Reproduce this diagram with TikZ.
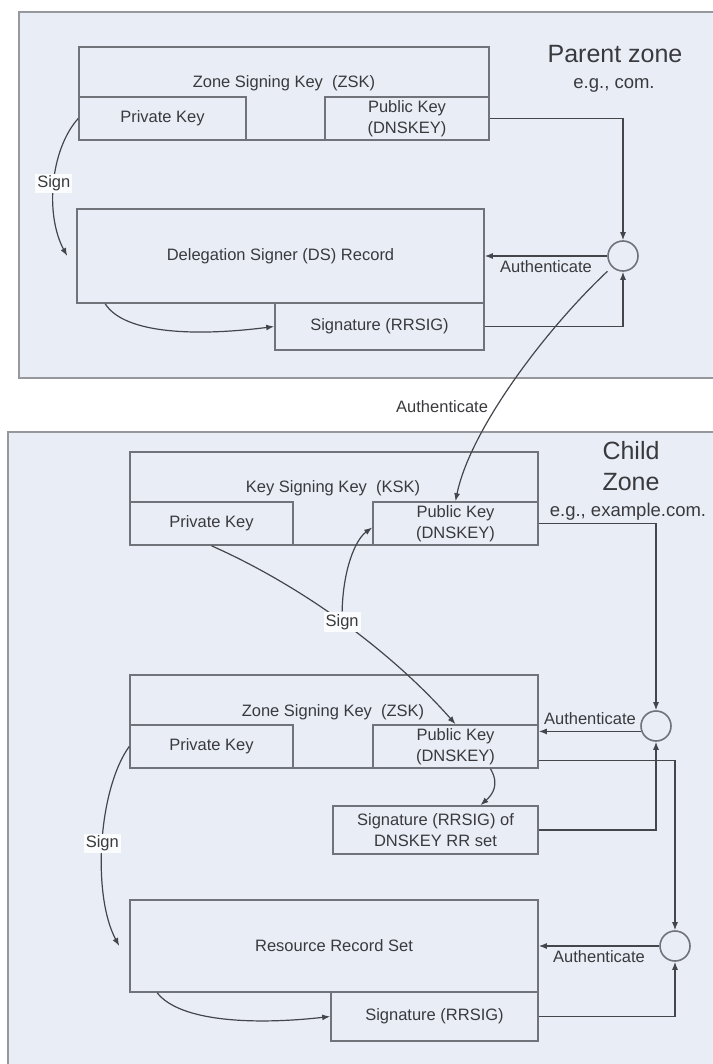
\documentclass[tikz,border=0pt]{standalone}
\usepackage{fontspec}
\setmainfont{Liberation Sans}
\usepackage{tikz}
\usepackage{xcolor}
\usetikzlibrary{arrows.meta}

\definecolor{zonefill}{RGB}{233,238,246}
\definecolor{zoneline}{RGB}{150,152,158}
\definecolor{boxline}{RGB}{112,115,122}
\definecolor{wireline}{RGB}{68,70,76}
\definecolor{labeltext}{RGB}{58,58,62}

\begin{document}
\begin{tikzpicture}[x=1pt, y=-1pt, >={Latex[length=8pt,width=6pt]},
  zone/.style={draw=zoneline, fill=zonefill, line width=2.5pt},
  boxtxt/.style={text=labeltext, font=\fontsize{16.5}{21}\selectfont, align=center, inner sep=1pt},
  keybox/.style={boxtxt, draw=boxline, line width=1.6pt},
  zonetitle/.style={text=labeltext, font=\fontsize{25}{31}\selectfont, align=center},
  zonesub/.style={text=labeltext, font=\fontsize{18.5}{22}\selectfont},
  authcirc/.style={circle, draw=boxline, line width=1.6pt, minimum size=30pt, inner sep=0pt},
  wire/.style={draw=wireline, line width=1.2pt},
  signlbl/.style={boxtxt, fill=white!80!zonefill, inner sep=2pt}]
\useasboundingbox (0,0) rectangle (712,1064);
\fill[white] (0,0) rectangle (712,1064);

% Parent zone
\draw[zone] (19,12) rectangle (740,378);
\node[zonetitle] (parTitle) at (615,54) {Parent zone};
\node[zonesub] (parSub) at (614,85) {e.g., com.};

\node[keybox, minimum width=410pt, minimum height=93pt] (zskP) at (284,93.5) {};
\node[boxtxt] (zskPtxt) at (284,83) {Zone Signing Key\ \ (ZSK)};
\node[keybox, minimum width=167pt, minimum height=43pt] (privP) at (162.5,118.5) {Private Key};
\node[keybox, minimum width=164pt, minimum height=43pt] (pubP) at (407,118.5) {Public Key\\(DNSKEY)};
\node[keybox, minimum width=407pt, minimum height=94pt] (dsP) at (280.5,256) {Delegation Signer (DS) Record};
\node[keybox, minimum width=209pt, minimum height=47pt] (sigP) at (379.5,326.5) {Signature (RRSIG)};
\node[authcirc] (authP) at (623,256) {};

\draw[wire, ->] (pubP.east) -| (authP.north);
\draw[wire, ->] (authP.west) -- node[boxtxt, below=3pt] {Authenticate} (dsP.east);
\draw[wire, ->] (sigP.east) -| (authP.south);
\draw[wire, ->] (privP.west) .. controls (50,150) and (45,215) .. ([xshift=-9pt]dsP.west) node[signlbl, pos=0.5] {Sign};
\draw[wire, ->] ([xshift=29pt]dsP.south west) .. controls (125,335) and (200,336) .. (sigP.west);

% Child zone
\draw[zone] (8,432) rectangle (740,1080);
\node[zonetitle] (chTitle) at (631,466) {Child\\Zone};
\node[zonesub] (chSub) at (628,512) {e.g., example.com.};

\node[keybox, minimum width=408pt, minimum height=93pt] (kskC) at (334,498.5) {};
\node[boxtxt] (kskCtxt) at (333,488) {Key Signing Key\ \ (KSK)};
\node[keybox, minimum width=163pt, minimum height=43pt] (kpriv) at (211.5,523.5) {Private Key};
\node[keybox, minimum width=165pt, minimum height=43pt] (kpub) at (455.5,523.5) {Public Key\\(DNSKEY)};

\node[keybox, minimum width=408pt, minimum height=93pt] (zskC) at (334,721.5) {};
\node[boxtxt] (zskCtxt) at (333,712) {Zone Signing Key\ \ (ZSK)};
\node[keybox, minimum width=163pt, minimum height=43pt] (zpriv) at (211.5,746.5) {Private Key};
\node[keybox, minimum width=165pt, minimum height=43pt] (zpub) at (455.5,746.5) {Public Key\\(DNSKEY)};
\node[keybox, minimum width=205pt, minimum height=48pt] (dksig) at (435.5,830) {Signature (RRSIG) of\\DNSKEY RR set};
\node[keybox, minimum width=408pt, minimum height=92pt] (rrs) at (334,946) {Resource Record Set};
\node[keybox, minimum width=207pt, minimum height=49pt] (sigC) at (434.5,1016.5) {Signature (RRSIG)};
\node[authcirc] (auth2) at (656,726) {};
\node[authcirc] (auth3) at (675,946) {};

% parent DS authenticates child KSK
\draw[wire, ->, shorten <=6pt] (authP.225) .. controls (545,330) and (470,430) .. (kpub.north) node[boxtxt, pos=0.6, left=8pt] {Authenticate};

\draw[wire, ->] (kpub.east) -| (auth2.north);
\draw[wire, ->] (auth2.200) -- node[boxtxt, above=5pt] {Authenticate} (auth2.200 -| zpub.east);
\draw[wire, ->] ([yshift=-14pt]zpub.east) -| (auth3.north);
\draw[wire, ->] ([xshift=35pt]zpub.south) .. controls (500,785) and (492,795) .. ([xshift=45pt]dksig.north);
\draw[wire, ->] (dksig.east) -| (auth2.south);
\draw[wire, ->] (auth3.west) -- node[boxtxt, below=3pt] {Authenticate} (rrs.east);
\draw[wire, ->] (sigC.east) -| (auth3.south);
\draw[wire, ->] ([xshift=28pt]rrs.south west) .. controls (180,1022) and (255,1025) .. (sigC.west);
\draw[wire, ->] (zpriv.west) .. controls (98,790) and (92,895) .. ([xshift=-10pt]rrs.west) node[signlbl, pos=0.5] {Sign};

% KSK signs both DNSKEYs
\draw[wire, ->] (kpriv.south) .. controls (300,585) and (390,650) .. (zpub.north) node[signlbl, pos=0.5] (signK) {Sign};
\draw[wire, ->] (signK.north) .. controls (343,570) and (355,540) .. ([yshift=-4pt]kpub.west);
\end{tikzpicture}
\end{document}
